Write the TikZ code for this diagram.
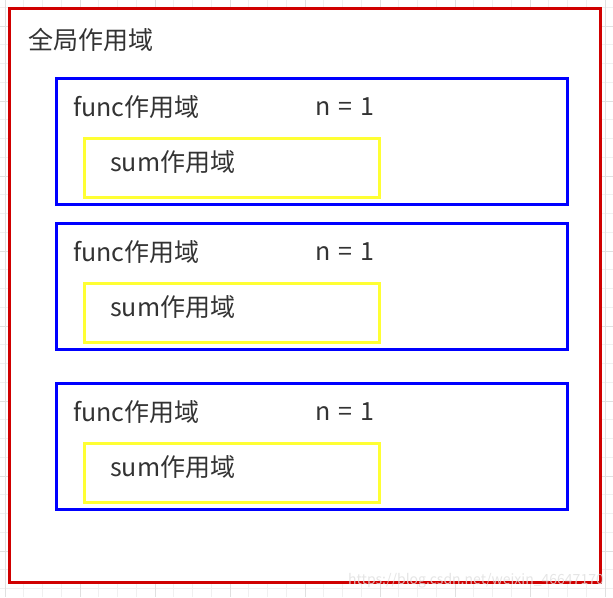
\documentclass[tikz,border=0pt]{standalone}
\usepackage{fontspec}
\setmainfont{Noto Sans CJK SC}
\definecolor{gridminor}{HTML}{F0F0F0}
\definecolor{gridmajor}{HTML}{E0E0E0}
\definecolor{txt}{HTML}{333333}
\definecolor{redline}{HTML}{D00000}
\definecolor{yelline}{HTML}{FFFF33}
\begin{document}
\begin{tikzpicture}[x=1pt,y=-1pt,
  redbox/.style={draw=redline,line width=3pt,fill=white,outer sep=0pt,inner sep=0pt,anchor=north west},
  bluebox/.style={draw=blue,line width=2.5pt,outer sep=0pt,inner sep=0pt,anchor=north west},
  yelbox/.style={draw=yelline,line width=2.2pt,outer sep=0pt,inner sep=0pt,anchor=north west},
  lbl/.style={text=txt,font=\fontsize{25}{28}\selectfont,anchor=west,inner sep=0pt}]
\useasboundingbox (0,0) rectangle (613,597);
% grid
\foreach \i in {0,...,33}{
  \pgfmathsetmacro\gx{5+18.75*\i}
  \draw[gridminor,line width=0.8pt] (\gx,0) -- (\gx,597);
}
\foreach \i in {0,...,32}{
  \pgfmathsetmacro\gy{-11.5+18.75*\i}
  \draw[gridminor,line width=0.8pt] (0,\gy) -- (613,\gy);
}
\foreach \i in {0,...,8}{
  \pgfmathsetmacro\gx{5+75*\i}
  \draw[gridmajor,line width=1pt] (\gx,0) -- (\gx,597);
}
\foreach \i in {0,...,7}{
  \pgfmathsetmacro\gy{26+75*\i}
  \draw[gridmajor,line width=1pt] (0,\gy) -- (613,\gy);
}
% global
\node[redbox,minimum width=591pt,minimum height=574pt] (global) at (9.5,8.5) {};
\node[lbl] (globallbl) at (28,40) {全局作用域};
% func scopes
\foreach \n/\yt/\yy in {f1/78/138, f2/223/283, f3/383/443}{
  \node[bluebox,minimum width=511pt,minimum height=126pt] (\n) at (56.5,\yt.5) {};
  \node[lbl] (\n lbl) at (73,\yt+29) {func作用域};
  \node[lbl] (\n n) at (315,\yt+29) {n\,\,=\,\,1};
  \node[yelbox,minimum width=295pt,minimum height=59pt] (\n s) at (84.5,\yy.5) {};
  \node[lbl] (\n slbl) at (110,\yy+24) {sum作用域};
}
% watermark
\node[text=gray!25,font=\fontsize{14}{16}\selectfont,anchor=south east,inner sep=0pt,opacity=0.8] (wm) at (604,588) {https://blog.csdn.net/weixin\_46647170};
\end{tikzpicture}
\end{document}
